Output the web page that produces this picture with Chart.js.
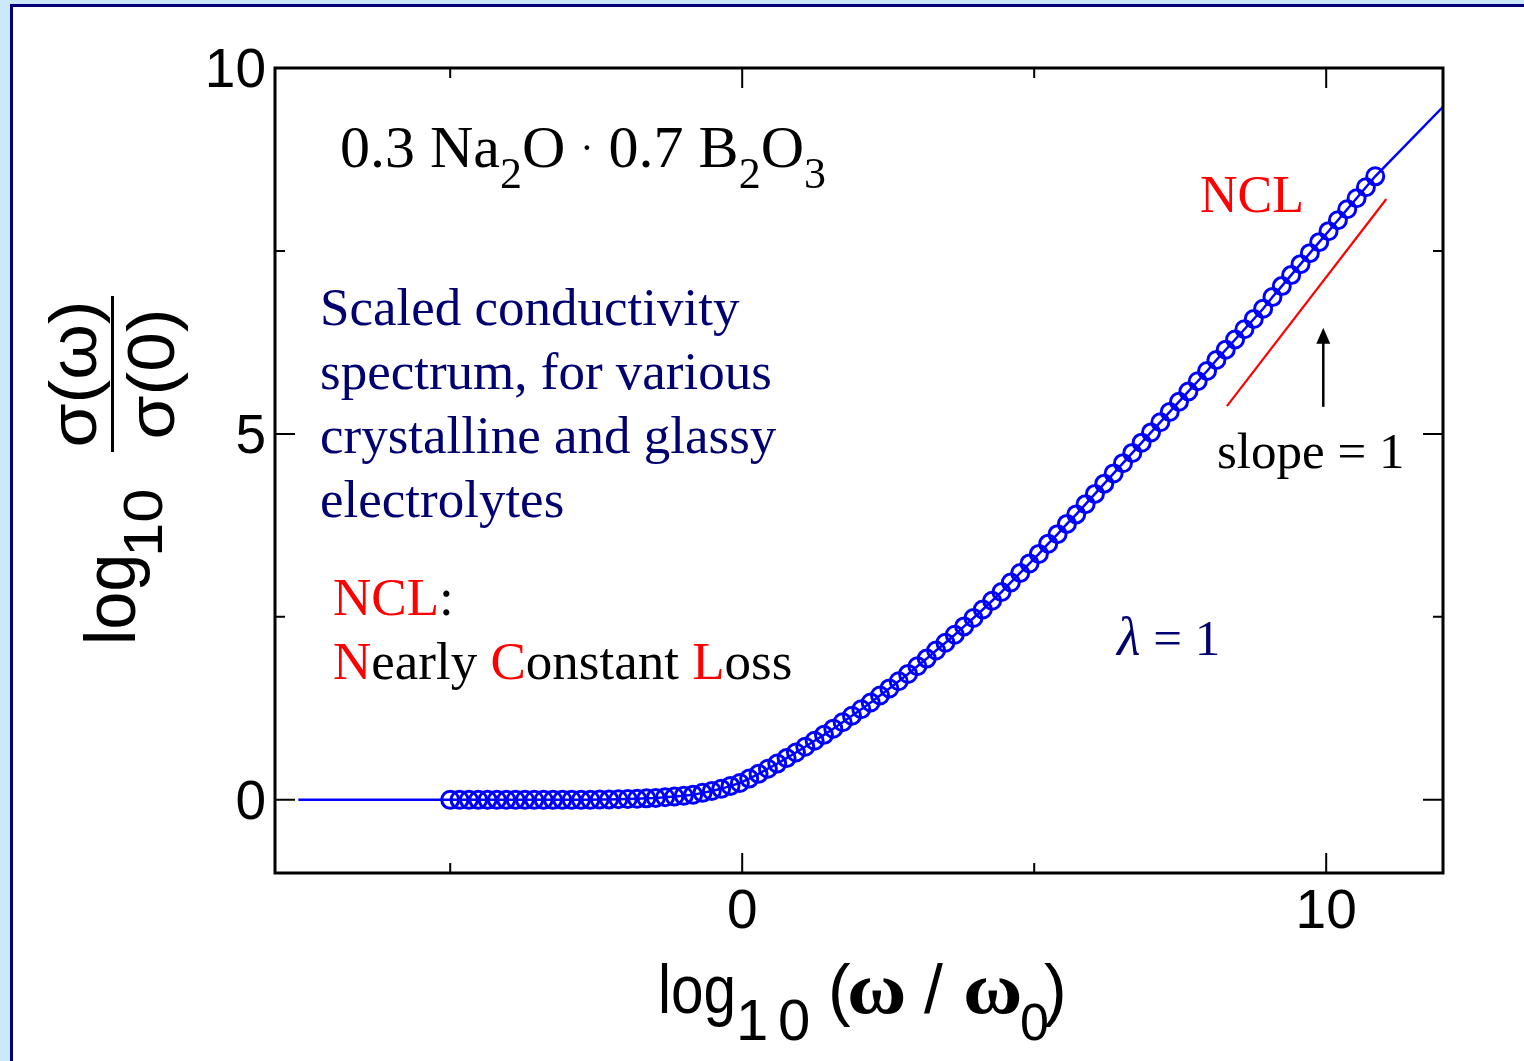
<!DOCTYPE html>
<html>
<head>
<meta charset="utf-8">
<title>Scaled conductivity spectrum</title>
<script src="https://cdn.jsdelivr.net/npm/chart.js@4.4.1/dist/chart.umd.min.js"></script>
<style>
  html, body { margin: 0; padding: 0; }
  body { width: 1524px; height: 1061px; overflow: hidden; background: #cce8fb; position: relative; }
  #panel { position: absolute; left: 10px; top: 4px; width: 1600px; height: 1200px; background: #fff; border: 3px solid #00007a; box-sizing: border-box; }
  #chart { position: absolute; left: 0; top: 0; }
</style>
</head>
<body>
<div id="panel"></div>
<canvas id="chart" width="1524" height="1061"></canvas>
<script>
// measured spectrum: log10(omega/omega0) vs log10(sigma(omega)/sigma(0))
const logOmega = [
  -5, -4.84, -4.68, -4.52, -4.36, -4.2, -4.04, -3.88, -3.72, -3.56,
  -3.4, -3.24, -3.08, -2.92, -2.76, -2.6, -2.44, -2.28, -2.12, -1.96,
  -1.8, -1.64, -1.48, -1.32, -1.16, -1, -0.84, -0.68, -0.52, -0.36,
  -0.2, -0.04, 0.12, 0.28, 0.44, 0.6, 0.76, 0.92, 1.08, 1.24,
  1.4, 1.56, 1.72, 1.88, 2.04, 2.2, 2.36, 2.52, 2.68, 2.84,
  3, 3.16, 3.32, 3.48, 3.64, 3.8, 3.96, 4.12, 4.28, 4.44,
  4.6, 4.76, 4.92, 5.08, 5.24, 5.4, 5.56, 5.72, 5.88, 6.04,
  6.2, 6.36, 6.52, 6.68, 6.84, 7, 7.16, 7.32, 7.48, 7.64,
  7.8, 7.96, 8.12, 8.28, 8.44, 8.6, 8.76, 8.92, 9.08, 9.24,
  9.4, 9.56, 9.72, 9.88, 10.04, 10.2, 10.36, 10.52, 10.68, 10.84
];
const logSigma = [
  0, 0, 0, 0, 0, 0, 0, 0, 0, 0,
  0, 0, 0, 0, 0, 0, 0.005, 0.006, 0.008, 0.011,
  0.015, 0.02, 0.026, 0.035, 0.045, 0.055, 0.07, 0.095, 0.12, 0.15,
  0.19, 0.23, 0.29, 0.355, 0.425, 0.495, 0.57, 0.647, 0.725, 0.807,
  0.888, 0.972, 1.06, 1.149, 1.238, 1.33, 1.425, 1.522, 1.62, 1.72,
  1.825, 1.93, 2.04, 2.147, 2.255, 2.37, 2.485, 2.6, 2.72, 2.84,
  2.97, 3.1, 3.23, 3.36, 3.5, 3.63, 3.77, 3.9, 4.04, 4.18,
  4.32, 4.46, 4.6, 4.74, 4.88, 5.02, 5.16, 5.3, 5.44, 5.58,
  5.72, 5.86, 6.01, 6.15, 6.29, 6.43, 6.57, 6.71, 6.87, 7.02,
  7.17, 7.32, 7.47, 7.62, 7.77, 7.92, 8.07, 8.22, 8.37, 8.52
];
// theory curve runs past the data at both ends
const lineEndsX = [-7.6, 12];
const lineEndsY = [0, 9.47];
// "slope = 1" guide and arrow
const slopeX = [8.3, 11.03];
const slopeY = [5.38, 8.21];
const arrowX = [9.95, 9.95];
const arrowY = [5.37, 6.45];

const xTicks = [-5, 0, 5, 10];
const xTickLabels = ['', '0', '', '10'];
const yTicks = [0, 2.5, 5, 7.5, 10];
const yTickLabels = ['0', '', '5', '', '10'];

const SERIF = '"Liberation Serif", "Times New Roman", serif';
const SANS = '"Liberation Sans", Arial, sans-serif';
const NAVY = '#000070';
const RED = '#ff0000';

const points = logOmega.map((x, i) => ({ x: x, y: logSigma[i] }));
const lineData = [{ x: lineEndsX[0], y: lineEndsY[0] }, ...points, { x: lineEndsX[1], y: lineEndsY[1] }];
const slopeData = slopeX.map((x, i) => ({ x: x, y: slopeY[i] }));

function drawRuns(ctx, x, y, runs) {
    for (const r of runs) {
        ctx.font = r.font;
        ctx.fillStyle = r.color || '#000';
        ctx.fillText(r.text, x, y + (r.dy || 0));
        x += ctx.measureText(r.text).width;
    }
    return x;
}

// draw a glyph at a fixed spot; sx stretches along the text direction
function put(ctx, text, x, y, font, sx) {
    ctx.save();
    ctx.translate(x, y);
    ctx.scale(sx || 1, 1);
    ctx.font = font;
    ctx.fillText(text, 0, 0);
    ctx.restore();
}

const decorPlugin = {
    id: 'decor',
    afterDraw(chart) {
        const ctx = chart.ctx;
        const area = chart.chartArea;
        const xs = chart.scales.x;
        const ys = chart.scales.y;
        ctx.save();

        // frame
        ctx.strokeStyle = '#000';
        ctx.lineWidth = 3;
        ctx.strokeRect(area.left, area.top, area.right - area.left, area.bottom - area.top);

        // inward ticks on all four sides
        ctx.lineWidth = 2;
        ctx.beginPath();
        xTicks.forEach((v, i) => {
            const px = xs.getPixelForValue(v);
            const len = xTickLabels[i] ? 20 : 10;
            ctx.moveTo(px, area.bottom); ctx.lineTo(px, area.bottom - len);
            ctx.moveTo(px, area.top); ctx.lineTo(px, area.top + len);
        });
        yTicks.forEach((v, i) => {
            const py = ys.getPixelForValue(v);
            const len = yTickLabels[i] ? 20 : 10;
            ctx.moveTo(area.left, py); ctx.lineTo(area.left + len, py);
            ctx.moveTo(area.right, py); ctx.lineTo(area.right - len, py);
        });
        ctx.stroke();

        // tick labels
        ctx.fillStyle = '#000';
        ctx.font = '55px ' + SANS;
        ctx.textAlign = 'center';
        ctx.textBaseline = 'alphabetic';
        xTicks.forEach((v, i) => {
            if (xTickLabels[i]) ctx.fillText(xTickLabels[i], xs.getPixelForValue(v), area.bottom + 55);
        });
        ctx.textAlign = 'right';
        yTicks.forEach((v, i) => {
            if (yTickLabels[i]) ctx.fillText(yTickLabels[i], area.left - 9, ys.getPixelForValue(v) + 19);
        });
        ctx.textAlign = 'left';

        // x axis title
        ctx.fillStyle = '#000';
        put(ctx, 'log', 658, 1013, '68px ' + SANS, 0.86);
        put(ctx, '1', 736, 1040, '58px ' + SANS);
        put(ctx, '0', 778, 1040, '58px ' + SANS);
        put(ctx, '(', 828, 1013, '68px ' + SANS);
        put(ctx, '\u03c9', 847, 1013, 'bold 74px ' + SERIF, 1.1);
        put(ctx, '/', 924, 1013, '68px ' + SANS);
        put(ctx, '\u03c9', 963, 1013, 'bold 74px ' + SERIF, 1.1);
        put(ctx, '0', 1020, 1040, '52px ' + SANS);
        put(ctx, ')', 1044, 1013, '68px ' + SANS);

        // y axis title (rotated)
        ctx.save();
        ctx.rotate(-Math.PI / 2);
        put(ctx, 'log', -645, 135, '72px ' + SANS, 0.95);
        put(ctx, '10', -557, 162, '56px ' + SANS, 1.1);
        const mid = -374;
        ctx.font = '66px ' + SANS;
        const wNum = ctx.measureText('\u03c3(\u03c9)').width * 1.08;
        const wDen = ctx.measureText('\u03c3(0)').width * 1.08;
        put(ctx, '\u03c3(\u03c9)', mid - wNum / 2, 96, '66px ' + SANS, 1.08);
        put(ctx, '\u03c3(0)', mid - wDen / 2, 174, '66px ' + SANS, 1.08);
        ctx.fillRect(-452, 111, 156, 3);
        ctx.restore();

        // arrow
        const ax = xs.getPixelForValue(arrowX[0]);
        const ay0 = ys.getPixelForValue(arrowY[0]);
        const ay1 = ys.getPixelForValue(arrowY[1]);
        ctx.strokeStyle = '#000';
        ctx.lineWidth = 2.5;
        ctx.beginPath();
        ctx.moveTo(ax, ay0); ctx.lineTo(ax, ay1 + 14);
        ctx.stroke();
        ctx.beginPath();
        ctx.moveTo(ax, ay1); ctx.lineTo(ax - 7, ay1 + 16); ctx.lineTo(ax + 7, ay1 + 16);
        ctx.closePath();
        ctx.fillStyle = '#000';
        ctx.fill();

        // annotations
        drawRuns(ctx, 340, 167, [
            { text: '0.3 Na', font: '60px ' + SERIF },
            { text: '2', font: '44px ' + SERIF, dy: 21 },
            { text: 'O ', font: '60px ' + SERIF },
            { text: '\u00b7', font: '40px ' + SERIF, dy: -6 },
            { text: ' 0.7 B', font: '60px ' + SERIF },
            { text: '2', font: '44px ' + SERIF, dy: 21 },
            { text: 'O', font: '60px ' + SERIF },
            { text: '3', font: '44px ' + SERIF, dy: 21 }
        ]);
        const navyLines = ['Scaled conductivity', 'spectrum, for various', 'crystalline and glassy', 'electrolytes'];
        navyLines.forEach((t, i) => drawRuns(ctx, 320, 325 + i * 64, [{ text: t, font: '53px ' + SERIF, color: NAVY }]));

        const f = '53px ' + SERIF;
        drawRuns(ctx, 333, 615, [
            { text: 'NCL', font: f, color: RED },
            { text: ':', font: f }
        ]);
        drawRuns(ctx, 333, 679, [
            { text: 'N', font: f, color: RED },
            { text: 'early ', font: f },
            { text: 'C', font: f, color: RED },
            { text: 'onstant ', font: f },
            { text: 'L', font: f, color: RED },
            { text: 'oss', font: f }
        ]);
        drawRuns(ctx, 1200, 212, [{ text: 'NCL', font: '52px ' + SERIF, color: RED }]);
        drawRuns(ctx, 1217, 468, [{ text: 'slope = 1', font: '51px ' + SERIF }]);
        drawRuns(ctx, 1117, 655, [
            { text: '\u03bb', font: 'italic 54px ' + SERIF, color: NAVY },
            { text: ' = 1', font: '51px ' + SERIF, color: NAVY }
        ]);

        ctx.restore();
    }
};

const chartCtx = document.getElementById('chart').getContext('2d');
new Chart(chartCtx, {
    type: 'scatter',
    data: {
        datasets: [{
            label: 'data',
            data: points,
            showLine: false,
            pointRadius: 8.5,
            pointBorderWidth: 3,
            pointBorderColor: '#0000ff',
            pointBackgroundColor: 'rgba(0,0,0,0)'
        }, {
            label: 'theory',
            data: lineData,
            showLine: true,
            borderColor: '#0000ff',
            borderWidth: 2.5,
            pointRadius: 0
        }, {
            label: 'slope',
            data: slopeData,
            showLine: true,
            borderColor: RED,
            borderWidth: 2.2,
            pointRadius: 0
        }]
    },
    options: {
        responsive: false,
        animation: false,
        events: [],
        devicePixelRatio: 1,
        layout: { padding: { left: 267, right: 81, top: 68, bottom: 180 } },
        plugins: { legend: { display: false }, tooltip: { enabled: false } },
        scales: {
            x: {
                type: 'linear', min: -8, max: 12,
                ticks: { display: false },
                grid: { display: false },
                border: { display: false }
            },
            y: {
                type: 'linear', min: -1, max: 10,
                ticks: { display: false },
                grid: { display: false },
                border: { display: false }
            }
        }
    },
    plugins: [decorPlugin]
});
</script>
</body>
</html>
